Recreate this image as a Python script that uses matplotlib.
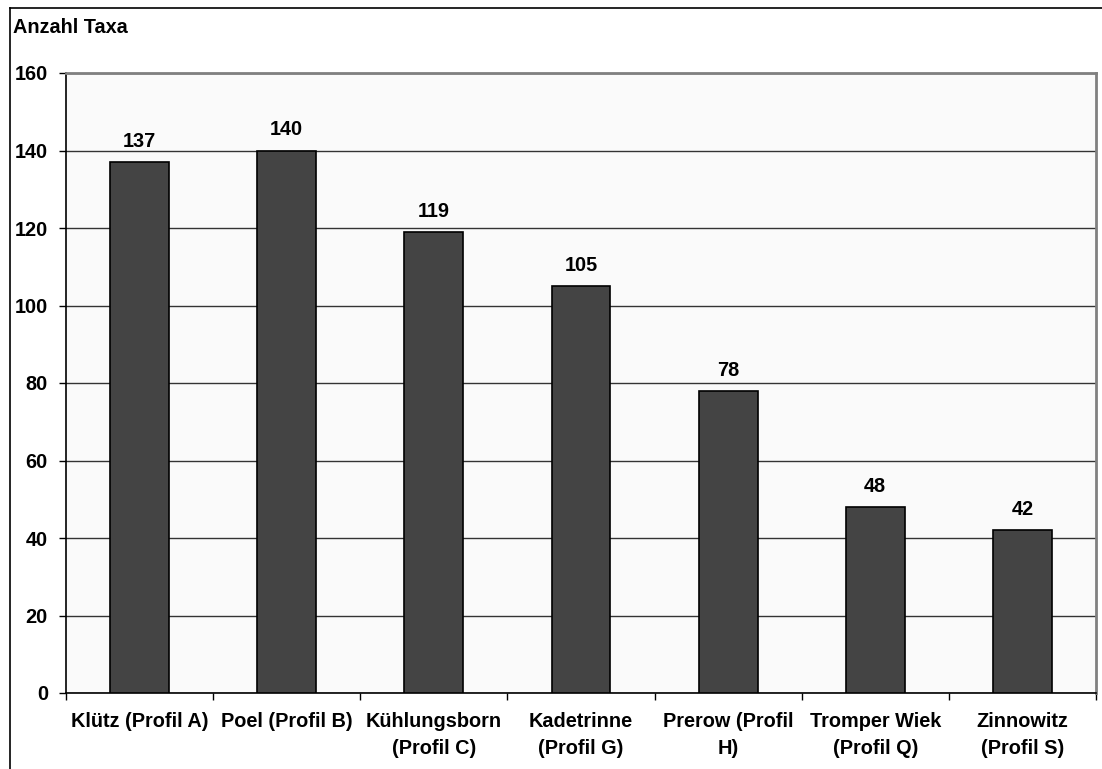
import matplotlib
matplotlib.use("Agg")
import matplotlib.pyplot as plt
from matplotlib.lines import Line2D
import numpy as np

categories = ["Klütz (Profil A)", "Poel (Profil B)", "Kühlungsborn\n(Profil C)",
              "Kadetrinne\n(Profil G)", "Prerow (Profil\nH)", "Tromper Wiek\n(Profil Q)",
              "Zinnowitz\n(Profil S)"]
values = [137, 140, 119, 105, 78, 48, 42]
yticks = [0, 20, 40, 60, 80, 100, 120, 140, 160]
ylabel = "Anzahl Taxa"

plt.rcParams['font.family'] = ['Liberation Sans', 'DejaVu Sans']
plt.rcParams['font.weight'] = 'bold'
FS = 14.3

fig = plt.figure(figsize=(11.02, 7.69), dpi=100)
fig.patch.set_facecolor('white')
ax = fig.add_axes([66/1102, 76/769, 1030/1102, 620/769])
ax.set_facecolor('#fafafa')

x = np.arange(len(values))
ax.bar(x, values, width=0.4, color='#444444', edgecolor='black', linewidth=1.2, zorder=3)
for xi, v in zip(x, values):
    ax.annotate(str(v), (xi, v), xytext=(0, 8), textcoords='offset points',
                ha='center', va='bottom', fontsize=FS, fontweight='bold')

ax.set_xlim(-0.5, len(values) - 0.5)
ax.set_ylim(0, 160)
ax.set_yticks(yticks)
ax.set_yticklabels([str(t) for t in yticks], fontsize=FS, fontweight='bold')
ax.yaxis.grid(True, color='#333333', linewidth=1.0, zorder=0)
ax.set_axisbelow(True)

ax.set_xticks(x)
ax.set_xticklabels(categories, fontsize=FS, fontweight='bold', linespacing=1.5)
ax.set_xticks(np.arange(-0.5, len(values), 1.0), minor=True)
ax.tick_params(axis='x', which='major', length=0, pad=14)
ax.tick_params(axis='x', which='minor', length=5, width=1, color='black', direction='out')
ax.tick_params(axis='y', length=5, width=1, pad=8, direction='out')

for s in ['left', 'bottom']:
    ax.spines[s].set_color('black')
    ax.spines[s].set_linewidth(1.2)
for s in ['top', 'right']:
    ax.spines[s].set_color('#808080')
    ax.spines[s].set_linewidth(2)

fig.text(13/1102, 1 - 33/769, ylabel, fontsize=FS, fontweight='bold', ha='left', va='baseline')

# outer chart border (only top and left visible)
fig.add_artist(Line2D([10/1102, 1.0], [1 - 7.5/769, 1 - 7.5/769], transform=fig.transFigure,
                      color='black', linewidth=1.2))
fig.add_artist(Line2D([10/1102, 10/1102], [0, 1 - 7.5/769], transform=fig.transFigure,
                      color='black', linewidth=1.2))

fig.savefig("out.png", dpi=100)
